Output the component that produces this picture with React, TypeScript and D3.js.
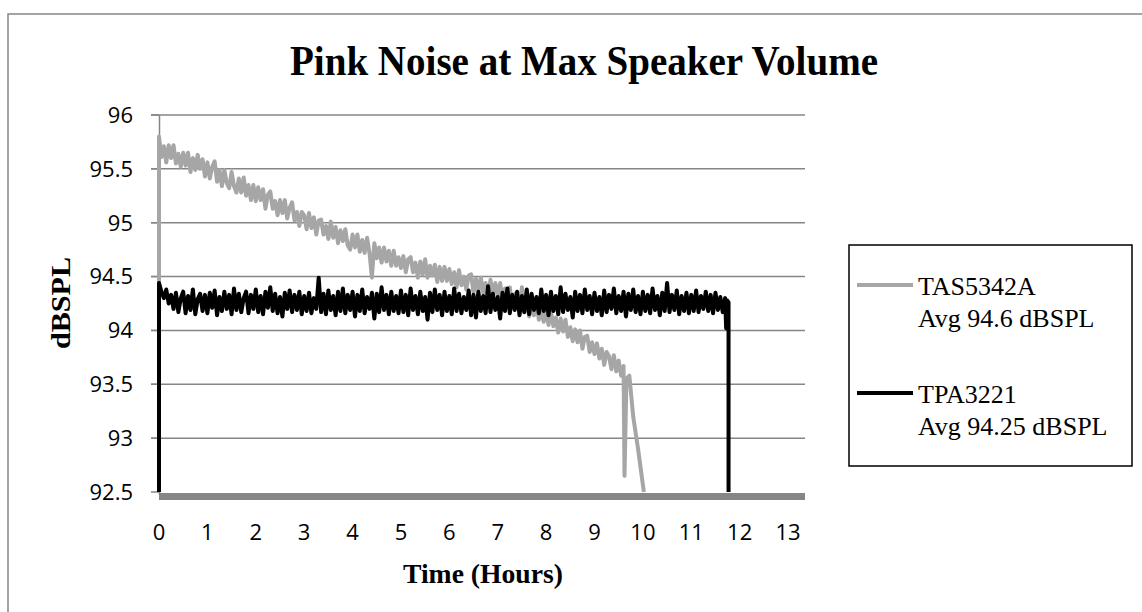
import React from "react";
import * as d3 from "d3";

// ---- data ----
const xTicks = [0, 1, 2, 3, 4, 5, 6, 7, 8, 9, 10, 11, 12, 13];
const yTicks = [92.5, 93, 93.5, 94, 94.5, 95, 95.5, 96];

const sampleStepHours = 0.05;

// TAS5342A (gray) sampled every 0.05 h from 0 to 9.6 h
const tasValues = [
  95.80, 95.61, 95.71, 95.56, 95.72, 95.60, 95.72, 95.55, 95.64, 95.52,
  95.65, 95.53, 95.65, 95.47, 95.60, 95.49, 95.63, 95.50, 95.59, 95.43,
  95.56, 95.41, 95.52, 95.57, 95.38, 95.49, 95.34, 95.49, 95.37, 95.32,
  95.47, 95.34, 95.28, 95.41, 95.28, 95.42, 95.25, 95.35, 95.21, 95.35,
  95.20, 95.33, 95.21, 95.31, 95.13, 95.26, 95.29, 95.13, 95.20, 95.07,
  95.21, 95.09, 95.21, 95.04, 95.14, 95.19, 95.02, 95.10, 94.97, 95.10,
  95.07, 94.94, 95.09, 94.95, 95.05, 94.89, 95.02, 95.03, 94.89, 94.97,
  94.85, 95.01, 94.86, 94.96, 94.81, 94.93, 94.83, 94.94, 94.79, 94.75,
  94.89, 94.77, 94.89, 94.73, 94.84, 94.72, 94.86, 94.72, 94.49, 94.81,
  94.67, 94.77, 94.63, 94.77, 94.64, 94.74, 94.60, 94.74, 94.60, 94.68,
  94.58, 94.69, 94.54, 94.66, 94.68, 94.54, 94.63, 94.49, 94.64, 94.52,
  94.66, 94.49, 94.60, 94.51, 94.61, 94.45, 94.59, 94.46, 94.59, 94.46,
  94.57, 94.43, 94.54, 94.40, 94.56, 94.42, 94.50, 94.38, 94.51, 94.52,
  94.35, 94.48, 94.37, 94.49, 94.35, 94.44, 94.29, 94.47, 94.33, 94.44,
  94.32, 94.44, 94.28, 94.39, 94.28, 94.40, 94.22, 94.34, 94.34, 94.20,
  94.40, 94.17, 94.28, 94.13, 94.26, 94.14, 94.26, 94.10, 94.19, 94.08,
  94.19, 94.05, 94.18, 94.04, 94.12, 93.98, 94.11, 93.99, 94.10, 93.94,
  94.03, 93.90, 94.01, 93.89, 94.00, 93.83, 93.94, 93.95, 93.80, 93.89,
  93.78, 93.88, 93.74, 93.83, 93.68, 93.80, 93.76, 93.64, 93.77, 93.62,
  93.72, 93.58, 93.67,
];
const tasTailHours = [9.62, 9.66, 9.72, 9.8, 9.9, 10.02];
const tasTailValues = [92.65, 93.55, 93.58, 93.2, 92.9, 92.5];

// TPA3221 (black) sampled every 0.05 h from 0 to 11.7 h
const tpaValues = [
  94.44, 94.36, 94.30, 94.38, 94.25, 94.33, 94.20, 94.35, 94.17, 94.30,
  94.36, 94.16, 94.32, 94.19, 94.38, 94.15, 94.29, 94.34, 94.18, 94.33,
  94.16, 94.35, 94.21, 94.37, 94.14, 94.31, 94.18, 94.36, 94.20, 94.33,
  94.15, 94.39, 94.19, 94.34, 94.17, 94.30, 94.36, 94.16, 94.33, 94.20,
  94.38, 94.17, 94.32, 94.15, 94.36, 94.21, 94.40, 94.18, 94.34, 94.16,
  94.31, 94.13, 94.35, 94.20, 94.37, 94.17, 94.33, 94.19, 94.36, 94.15,
  94.32, 94.18, 94.35, 94.16, 94.30, 94.20, 94.49, 94.17, 94.34, 94.15,
  94.37, 94.19, 94.32, 94.14, 94.36, 94.18, 94.39, 94.16, 94.33, 94.19,
  94.36, 94.13, 94.33, 94.18, 94.38, 94.16, 94.31, 94.20, 94.35, 94.11,
  94.34, 94.17, 94.40, 94.19, 94.33, 94.15, 94.36, 94.18, 94.32, 94.16,
  94.37, 94.17, 94.33, 94.14, 94.39, 94.19, 94.32, 94.15, 94.36, 94.18,
  94.31, 94.10, 94.35, 94.17, 94.38, 94.19, 94.33, 94.14, 94.36, 94.18,
  94.32, 94.15, 94.39, 94.18, 94.34, 94.16, 94.31, 94.19, 94.37, 94.14,
  94.33, 94.12, 94.36, 94.18, 94.32, 94.16, 94.41, 94.17, 94.34, 94.19,
  94.31, 94.11, 94.35, 94.18, 94.39, 94.16, 94.33, 94.19, 94.36, 94.14,
  94.32, 94.17, 94.38, 94.15, 94.34, 94.19, 94.31, 94.16, 94.38, 94.18,
  94.33, 94.14, 94.36, 94.18, 94.32, 94.15, 94.40, 94.17, 94.34, 94.19,
  94.31, 94.12, 94.36, 94.18, 94.33, 94.16, 94.38, 94.19, 94.32, 94.15,
  94.35, 94.18, 94.31, 94.14, 94.37, 94.17, 94.33, 94.20, 94.39, 94.16,
  94.32, 94.18, 94.36, 94.13, 94.34, 94.19, 94.38, 94.17, 94.32, 94.15,
  94.36, 94.18, 94.33, 94.16, 94.39, 94.19, 94.32, 94.14, 94.35, 94.18,
  94.44, 94.17, 94.33, 94.19, 94.37, 94.15, 94.32, 94.18, 94.35, 94.16,
  94.33, 94.18, 94.37, 94.17, 94.32, 94.20, 94.36, 94.18, 94.33, 94.16,
  94.35, 94.19, 94.31, 94.17, 94.30,
];
const tpaTailHours = [11.72, 11.74, 11.77, 11.77];
const tpaTailValues = [94.02, 94.28, 94.26, 92.5];

const seriesNames = ["TAS5342A", "TPA3221"];
const seriesNotes = ["Avg 94.6 dBSPL", "Avg 94.25 dBSPL"];
const seriesColors = ["#a6a6a6", "#000000"];

type Pt = { t: number; v: number };

function buildSeries(values: number[], tailH: number[], tailV: number[]): Pt[] {
  const pts: Pt[] = [{ t: 0, v: 92.5 }];
  values.forEach((v, i) => pts.push({ t: i * sampleStepHours, v }));
  tailH.forEach((t, i) => pts.push({ t, v: tailV[i] }));
  return pts;
}

export default function App() {
  const W = 1142;
  const H = 612;
  const x = d3.scaleLinear().domain([0, 13.35]).range([159, 805]);
  const y = d3.scaleLinear().domain([92.5, 96]).range([492, 115]);
  const line = d3
    .line<Pt>()
    .x((d) => x(d.t))
    .y((d) => y(d.v));

  const tas = buildSeries(tasValues, tasTailHours, tasTailValues);
  const tpa = buildSeries(tpaValues, tpaTailHours, tpaTailValues);
  const gridColor = "#868686";
  const sans = "'Open Sans', sans-serif";
  const serif = "'Liberation Serif', 'Times New Roman', serif";

  return (
    <svg
      width={W}
      height={H}
      style={{ position: "absolute", left: 0, top: 0, background: "#fff" }}
    >
      <rect x={0} y={0} width={W} height={H} fill="#fff" />
      {/* outer chart border */}
      <path d={`M8,${H} V14 H${W}`} fill="none" stroke={gridColor} strokeWidth={1.5} />

      {/* title */}
      <text
        x={584}
        y={75}
        textAnchor="middle"
        fontFamily={serif}
        fontWeight="bold"
        fontSize={42}
        textLength={588}
        lengthAdjust="spacingAndGlyphs"
      >
        Pink Noise at Max Speaker Volume
      </text>

      {/* gridlines and y ticks */}
      {yTicks.map((v) => (
        <g key={v}>
          {v > 92.5 && (
            <line x1={151} x2={805} y1={y(v)} y2={y(v)} stroke={gridColor} strokeWidth={1.5} />
          )}
          <line x1={151} x2={159} y1={y(v)} y2={y(v)} stroke={gridColor} strokeWidth={1.5} />
          <text
            x={133}
            y={y(v)}
            dy="0.36em"
            textAnchor="end"
            fontFamily={sans}
            fontSize={22}
            fill="#000"
          >
            {v}
          </text>
        </g>
      ))}
      {/* y axis line */}
      <line x1={159.5} x2={159.5} y1={115} y2={495} stroke={gridColor} strokeWidth={1.5} />

      {/* x tick labels */}
      {xTicks.map((t) => (
        <text
          key={t}
          x={x(t)}
          y={540}
          textAnchor="middle"
          fontFamily={sans}
          fontSize={22}
          fill="#000"
        >
          {t}
        </text>
      ))}

      {/* series */}
      <path d={line(tas) ?? ""} fill="none" stroke={seriesColors[0]} strokeWidth={4} strokeLinejoin="round" />
      <path d={line(tpa) ?? ""} fill="none" stroke={seriesColors[1]} strokeWidth={4} strokeLinejoin="round" />

      {/* thick bottom axis */}
      <rect x={159} y={y(92.5) + 1} width={805 - 159} height={7} fill={gridColor} />

      {/* axis titles */}
      <text
        x={483}
        y={583}
        textAnchor="middle"
        fontFamily={serif}
        fontWeight="bold"
        fontSize={27}
        textLength={160}
        lengthAdjust="spacingAndGlyphs"
      >
        Time (Hours)
      </text>
      <text
        transform="translate(70,303) rotate(-90)"
        textAnchor="middle"
        fontFamily={serif}
        fontWeight="bold"
        fontSize={27}
        textLength={92}
        lengthAdjust="spacingAndGlyphs"
      >
        dBSPL
      </text>

      {/* legend */}
      <rect x={849} y={245} width={283} height={221} fill="#fff" stroke="#000" strokeWidth={1.5} />
      {seriesNames.map((name, i) => {
        const ly = i === 0 ? 285 : 393;
        return (
          <g key={name}>
            <line x1={857} x2={913} y1={ly} y2={ly} stroke={seriesColors[i]} strokeWidth={4} />
            <text x={918} y={ly + 10} fontFamily={serif} fontSize={26} fill="#000">
              {name}
            </text>
            <text x={918} y={ly + 42} fontFamily={serif} fontSize={26} fill="#000">
              {seriesNotes[i]}
            </text>
          </g>
        );
      })}
    </svg>
  );
}
